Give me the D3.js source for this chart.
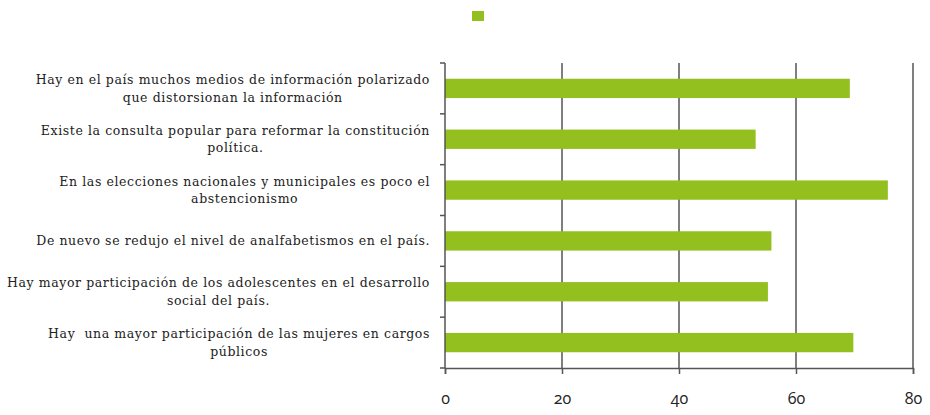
<!DOCTYPE html>
<html>
<head>
<meta charset="utf-8">
<script src="https://cdn.jsdelivr.net/npm/d3@7"></script>
<style>
  body { margin: 0; background: #fff; }
  svg { display: block; }
  .cat text { font-family: "DejaVu Serif", serif; font-size: 12.5px; letter-spacing: 0.6px; fill: #222; }
  .xax text { font-family: "Open Sans", sans-serif; font-size: 16px; fill: #222; font-feature-settings: "onum"; }
</style>
</head>
<body>
<div id="chart"></div>
<script>
// categories (top to bottom), each split into display lines
const categories = [
  ["Hay en el país muchos medios de información polarizado", "que distorsionan la información"],
  ["Existe la consulta popular para reformar la constitución", "política."],
  ["En las elecciones nacionales y municipales es poco el", "abstencionismo"],
  ["De nuevo se redujo el nivel de analfabetismos en el país."],
  ["Hay mayor participación de los adolescentes en el desarrollo", "social del país."],
  ["Hay  una mayor participación de las mujeres en cargos", "públicos"]
]
const values = [69.2, 53.1, 75.7, 55.8, 55.2, 69.8]
const xTicks = [0, 20, 40, 60, 80]

const width = 930, height = 415
const margin = { top: 63, right: 17, bottom: 47, left: 445 }
const innerW = width - margin.left - margin.right
const innerH = height - margin.top - margin.bottom
const green = '#93c01f'

const svg = d3.select('#chart').append('svg')
  .attr('width', width)
  .attr('height', height)

const g = svg.append('g')
  .attr('transform', `translate(${margin.left},${margin.top})`)

const x = d3.scaleLinear().domain([0, 80]).range([0, innerW])
const y = d3.scaleBand().domain(d3.range(categories.length)).range([0, innerH])
  .paddingInner(0.62).paddingOuter(0.31)

// gridlines
g.append('g')
  .selectAll('line')
  .data(xTicks.slice(1))
  .join('line')
    .attr('x1', d => x(d)).attr('x2', d => x(d))
    .attr('y1', 0).attr('y2', innerH)
    .attr('stroke', '#555').attr('stroke-width', 1.5)

// bars
g.append('g')
  .selectAll('rect')
  .data(values)
  .join('rect')
    .attr('x', 0)
    .attr('y', (d, i) => y(i))
    .attr('width', d => x(d))
    .attr('height', y.bandwidth())
    .attr('fill', green)

// left axis line + boundary ticks
const step = innerH / categories.length
const ly = g.append('g').attr('stroke', '#555').attr('stroke-width', 1.5)
ly.append('line').attr('x1', 0).attr('x2', 0).attr('y1', 0).attr('y2', innerH)
ly.selectAll('line.tk')
  .data(d3.range(categories.length + 1))
  .join('line').attr('class', 'tk')
    .attr('x1', -5).attr('x2', 0)
    .attr('y1', i => i * step).attr('y2', i => i * step)

// bottom axis
const xa = g.append('g')
  .attr('class', 'xax')
  .attr('transform', `translate(0,${innerH})`)
  .call(d3.axisBottom(x).tickValues(xTicks).tickSize(6).tickPadding(19).tickFormat(d3.format('d')))
xa.select('.domain').attr('stroke', '#555').attr('stroke-width', 1.5)
xa.selectAll('.tick line').attr('stroke', '#555').attr('stroke-width', 1.5)

// category labels: block right-aligned near the axis, lines centered in block
const labelRight = -15
const cat = g.append('g').attr('class', 'cat')
categories.forEach((lines, i) => {
  const cy = y(i) + y.bandwidth() / 2
  const lh = 17.5
  const t = cat.append('text').attr('text-anchor', 'middle')
  const spans = lines.map((ln, j) =>
    t.append('tspan')
      .attr('y', cy + (j - (lines.length - 1) / 2) * lh)
      .attr('dy', '0.35em')
      .attr('xml:space', 'preserve')
      .text(ln))
  const w = d3.max(spans, s => s.node().getComputedTextLength())
  spans.forEach(s => s.attr('x', labelRight - w / 2))
})

// legend swatch (no label)
svg.append('rect')
  .attr('x', 472).attr('y', 11)
  .attr('width', 12).attr('height', 10)
  .attr('fill', green)
</script>
</body>
</html>
